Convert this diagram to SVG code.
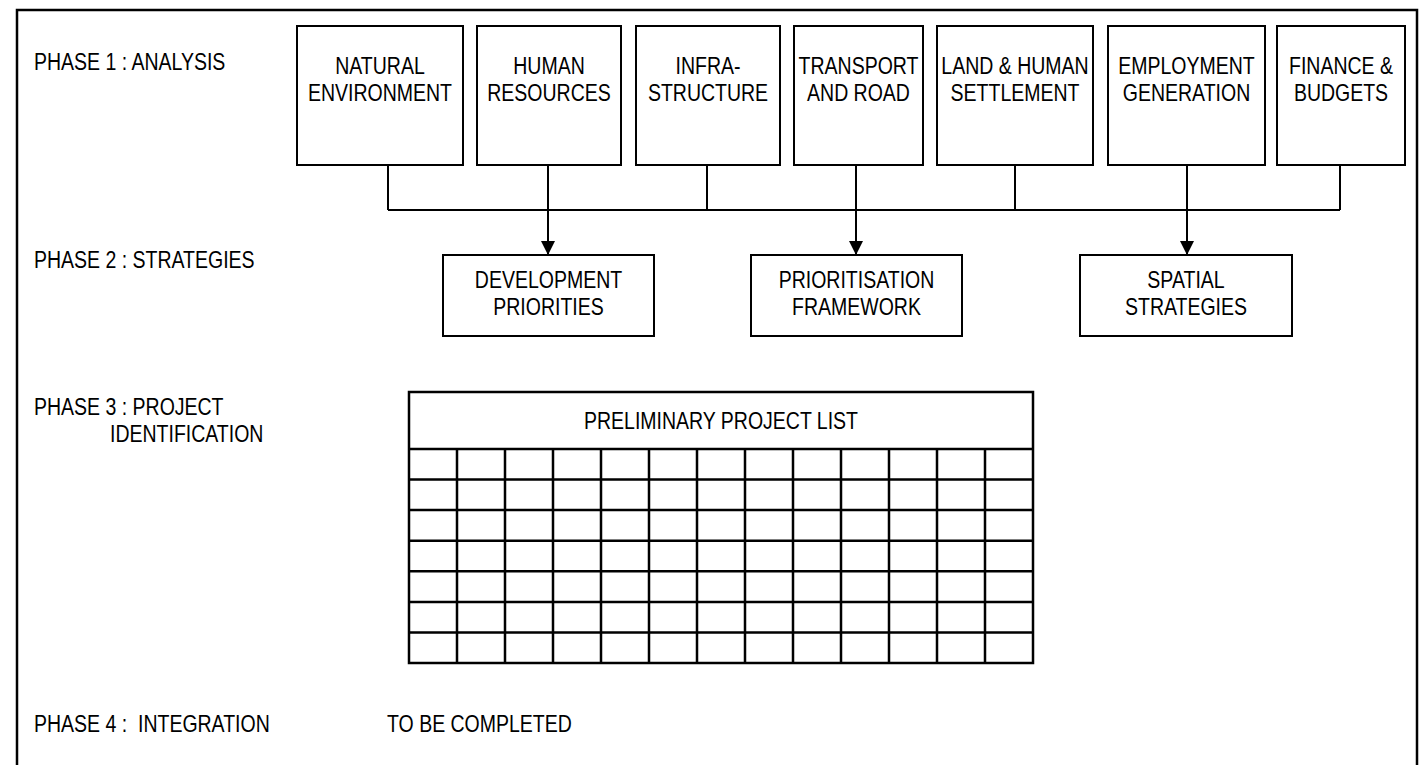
<svg xmlns="http://www.w3.org/2000/svg" width="1424" height="765" viewBox="0 0 1424 765">
<style>
text{font-family:"Liberation Sans",Arial,sans-serif;font-size:23.5px;fill:#000}
.c{text-anchor:middle}
.box{fill:#fff;stroke:#000;stroke-width:2}
.ln{fill:none;stroke:#000;stroke-width:2}
.grid{fill:none;stroke:#000;stroke-width:2.5}
</style>
<defs>
<marker id="ah" markerUnits="userSpaceOnUse" markerWidth="14" markerHeight="14" refX="14" refY="7" orient="auto">
<path d="M0,0 L14,7 L0,14 Z" fill="#000"/>
</marker>
</defs>
<rect width="1424" height="765" fill="#fff"/>
<rect id="frame" x="17" y="10" width="1400" height="770" fill="none" stroke="#000" stroke-width="2.5"/>
<g id="phase-labels">
<text transform="translate(34,70) scale(0.83,1)">PHASE 1 : ANALYSIS</text>
<text transform="translate(34,268) scale(0.83,1)">PHASE 2 : STRATEGIES</text>
<text transform="translate(34,415) scale(0.83,1)">PHASE 3 : PROJECT</text>
<text transform="translate(110,442) scale(0.83,1)">IDENTIFICATION</text>
<text transform="translate(34,732) scale(0.83,1)" xml:space="preserve">PHASE 4 :  INTEGRATION</text>
<text id="tbc" transform="translate(387,732) scale(0.83,1)">TO BE COMPLETED</text>
</g>
<g id="connectors">
<path class="ln" d="M388,165V210M548,165V210M707,165V210M856,165V210M1015,165V210M1187,165V210M1340,165V210M388,210H1340"/>
<path class="ln" d="M548,210V255" marker-end="url(#ah)"/>
<path class="ln" d="M856,210V255" marker-end="url(#ah)"/>
<path class="ln" d="M1187,210V255" marker-end="url(#ah)"/>
</g>
<g id="n1"><rect class="box" x="297" y="26" width="166" height="139"/><text class="c" transform="translate(380,74) scale(0.83,1)">NATURAL<tspan x="0" dy="27">ENVIRONMENT</tspan></text></g>
<g id="n2"><rect class="box" x="477" y="26" width="144" height="139"/><text class="c" transform="translate(549,74) scale(0.83,1)">HUMAN<tspan x="0" dy="27">RESOURCES</tspan></text></g>
<g id="n3"><rect class="box" x="636" y="26" width="144" height="139"/><text class="c" transform="translate(708,74) scale(0.83,1)">INFRA-<tspan x="0" dy="27">STRUCTURE</tspan></text></g>
<g id="n4"><rect class="box" x="794" y="26" width="129" height="139"/><text class="c" transform="translate(858.5,74) scale(0.83,1)">TRANSPORT<tspan x="0" dy="27">AND ROAD</tspan></text></g>
<g id="n5"><rect class="box" x="937" y="26" width="156" height="139"/><text class="c" transform="translate(1015,74) scale(0.83,1)">LAND &amp; HUMAN<tspan x="0" dy="27">SETTLEMENT</tspan></text></g>
<g id="n6"><rect class="box" x="1108" y="26" width="157" height="139"/><text class="c" transform="translate(1186.5,74) scale(0.83,1)">EMPLOYMENT<tspan x="0" dy="27">GENERATION</tspan></text></g>
<g id="n7"><rect class="box" x="1277" y="26" width="128" height="139"/><text class="c" transform="translate(1341,74) scale(0.83,1)">FINANCE &amp;<tspan x="0" dy="27">BUDGETS</tspan></text></g>
<g id="s1"><rect class="box" x="443" y="255" width="211" height="81"/><text class="c" transform="translate(548.5,288) scale(0.83,1)">DEVELOPMENT<tspan x="0" dy="27.5">PRIORITIES</tspan></text></g>
<g id="s2"><rect class="box" x="751" y="255" width="211" height="81"/><text class="c" transform="translate(856.5,288) scale(0.83,1)">PRIORITISATION<tspan x="0" dy="27.5">FRAMEWORK</tspan></text></g>
<g id="s3"><rect class="box" x="1080" y="255" width="212" height="81"/><text class="c" transform="translate(1186,288) scale(0.83,1)">SPATIAL<tspan x="0" dy="27.5">STRATEGIES</tspan></text></g>
<g id="table">
<rect class="grid" x="409" y="392" width="624" height="271"/>
<text class="c" transform="translate(721,429) scale(0.83,1)">PRELIMINARY PROJECT LIST</text>
<path class="grid" d="M409,449H1033M409,479.6H1033M409,510.1H1033M409,540.7H1033M409,571.3H1033M409,601.9H1033M409,632.4H1033
M457,449V663M505,449V663M553,449V663M601,449V663M649,449V663M697,449V663M745,449V663M793,449V663M841,449V663M889,449V663M937,449V663M985,449V663"/>
</g>
</svg>
